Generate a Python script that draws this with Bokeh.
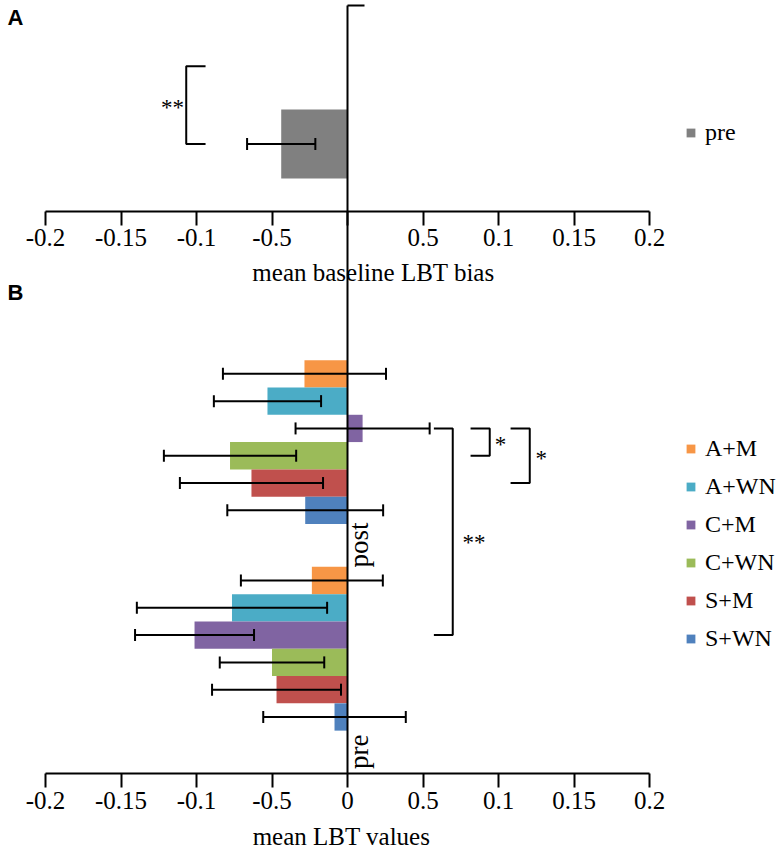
import math
from bokeh.plotting import figure
from bokeh.models import (Range1d, FixedTicker, ColumnDataSource, Whisker, TeeHead,
                          Legend, LegendItem, Label, LinearAxis)
from bokeh.core.properties import value
from bokeh.embed import file_html
from bokeh.resources import INLINE

# ---------------- data ----------------
SERIES = ["A+M", "A+WN", "C+M", "C+WN", "S+M", "S+WN"]
GROUPS = ["pre", "post"]
PRE_MEAN = [-0.0236, -0.0765, -0.1013, -0.0500, -0.0470, -0.0086]
PRE_ERR = [0.0470, 0.0630, 0.0394, 0.0346, 0.0427, 0.0472]
POST_MEAN = [-0.0285, -0.0530, 0.0100, -0.0778, -0.0636, -0.0280]
POST_ERR = [0.0540, 0.0355, 0.0444, 0.0438, 0.0474, 0.0516]
BASE_LABEL = "pre"
BASE_MEAN = [-0.0439]
BASE_ERR = [0.0226]
TICKS = [-0.2, -0.15, -0.1, -0.05, 0, 0.05, 0.1, 0.15, 0.2]
TICK_LABELS_A = ["-0.2", "-0.15", "-0.1", "-0.5", "", "0.5", "0.1", "0.15", "0.2"]
TICK_LABELS_B = ["-0.2", "-0.15", "-0.1", "-0.5", "0", "0.5", "0.1", "0.15", "0.2"]
TITLE_A = "mean baseline LBT bias"
TITLE_B = "mean LBT values"

# ---------------- styles ----------------
COLORS = ["#F79646", "#4BACC6", "#8064A2", "#9BBB59", "#C0504D", "#4F81BD"]
BASE_COLOR = "#808080"
SERIF = "Liberation Serif"

# ---------------- layout ----------------
W, H = 781, 850
X0_PX = 347.0        # px of x = 0
X_SCALE = 1510.0     # px per x unit
Y0_PX = 773.0        # px (from top) of the lower axis
Y_SCALE = 27.3       # px per bar slot
GAP = 1.57           # slots between groups
A_AXIS_Y = 20.59
A_BAR_Y = 23.06
A_BAR_H = 2.53
A_BRACKET_TOP = A_BAR_Y + 2.85
TEXT_SHIFT = 8.0     # px correction of rendered text baselines

x_range = Range1d(-X0_PX / X_SCALE, (W - X0_PX) / X_SCALE)
y_range = Range1d(-(H - Y0_PX) / Y_SCALE, Y0_PX / Y_SCALE)


def y_of_px(px):
    return (Y0_PX - px) / Y_SCALE


def x_of_px(px):
    return (px - X0_PX) / X_SCALE


n = len(SERIES)


def slot_y(g, i):
    return g * (n + GAP) + GAP + (n - 1 - i) + 0.5


p = figure(width=W, height=H, x_range=x_range, y_range=y_range,
           output_backend="svg", toolbar_location=None, min_border=0)
p.outline_line_color = None
p.xgrid.grid_line_color = None
p.ygrid.grid_line_color = None
p.yaxis.visible = False
p.background_fill_color = "white"


def style_axis(ax, labels):
    ax.ticker = FixedTicker(ticks=TICKS)
    ax.major_label_overrides = {t: l for t, l in zip(TICKS, labels)}
    ax.bounds = (-0.2, 0.2)
    ax.axis_line_width = 2
    ax.axis_line_color = "black"
    ax.major_tick_line_width = 2
    ax.major_tick_line_color = "black"
    ax.major_tick_out = 14
    ax.major_tick_in = 0
    ax.minor_tick_out = 0
    ax.minor_tick_in = 0
    ax.major_label_text_font = SERIF
    ax.major_label_text_font_size = "25px"
    ax.major_label_text_color = "black"
    ax.major_label_standoff = 4


# lower axis (panel B)
axB = p.xaxis[0]
axB.fixed_location = 0
style_axis(axB, TICK_LABELS_B)

# upper axis (panel A)
axA = LinearAxis(fixed_location=A_AXIS_Y)
style_axis(axA, TICK_LABELS_A)
p.add_layout(axA, "below")

# ---------------- panel A bar ----------------
srcA = ColumnDataSource(dict(y=[A_BAR_Y], m=BASE_MEAN,
                             lo=[BASE_MEAN[0] - BASE_ERR[0]],
                             hi=[BASE_MEAN[0] + BASE_ERR[0]]))
rA = p.hbar(y="y", left=0, right="m", height=A_BAR_H, source=srcA,
            fill_color=BASE_COLOR, line_color=None)

# ---------------- panel B bars ----------------
renderers = []
wy, wlo, whi = [], [], []
for i, s in enumerate(SERIES):
    ys = [slot_y(0, i), slot_y(1, i)]
    ms = [PRE_MEAN[i], POST_MEAN[i]]
    es = [PRE_ERR[i], POST_ERR[i]]
    src = ColumnDataSource(dict(y=ys, m=ms))
    r = p.hbar(y="y", left=0, right="m", height=1.0, source=src,
               fill_color=COLORS[i], line_color=None)
    renderers.append(r)
    for yy, mm, ee in zip(ys, ms, es):
        wy.append(yy)
        wlo.append(mm - ee)
        whi.append(mm + ee)

srcW = ColumnDataSource(dict(y=wy + [A_BAR_Y], lo=wlo + srcA.data["lo"],
                             hi=whi + srcA.data["hi"]))


def head():
    return TeeHead(size=12, line_width=2, line_color="black")


wh = Whisker(base="y", lower="lo", upper="hi", dimension="width", source=srcW,
             line_width=2, line_color="black", upper_head=head(), lower_head=head(),
             level="overlay")
p.add_layout(wh)

# ---------------- vertical zero line + top tick ----------------
top_y = y_of_px(5)
p.segment(x0=[0], y0=[0], x1=[0], y1=[top_y], line_width=2, line_color="black")
p.segment(x0=[0], y0=[top_y], x1=[17 / X_SCALE], y1=[top_y],
          line_width=2, line_color="black")

# ---------------- significance brackets ----------------
c_post = slot_y(1, SERIES.index("C+M"))
c_pre = slot_y(0, SERIES.index("C+M"))
cwn_post = slot_y(1, SERIES.index("C+WN"))
sm_post = slot_y(1, SERIES.index("S+M"))

brackets = [
    # (x_arm, x_spine, y_top, y_bottom)
    (-0.094, -0.1068, A_BRACKET_TOP, A_BAR_Y),
    (0.0572, 0.0697, c_post, c_pre),
    (0.0815, 0.0942, c_post, cwn_post),
    (0.1080, 0.1207, c_post, sm_post),
]
xs = [[a, b, b, a] for a, b, t, bt in brackets]
ys = [[t, t, bt, bt] for a, b, t, bt in brackets]
p.multi_line(xs=xs, ys=ys, line_width=2, line_color="black")

star_x = [-0.1159, 0.0838, 0.1013, 0.1283]
star_y = [(A_BRACKET_TOP + A_BAR_Y) / 2, (c_post + c_pre) / 2 - 0.27,
          (c_post + cwn_post) / 2, (c_post + sm_post) / 2]
star_t = ["**", "**", "*", "*"]
dy_text = TEXT_SHIFT / Y_SCALE
p.text(x=star_x, y=[v - 0.40 + dy_text for v in star_y], text=star_t,
       text_font=value(SERIF), text_font_size=value("23px"),
       text_align="center", text_baseline="alphabetic", text_color="black")

# ---------------- category labels pre / post ----------------
cat_y = [g * (n + GAP) + 0.8 for g in range(len(GROUPS))]
p.text(x=[11 / X_SCALE] * len(GROUPS), y=cat_y, text=GROUPS, angle=math.pi / 2,
       text_font=value(SERIF), text_font_size=value("27px"),
       text_align="center", text_baseline="alphabetic", text_color="black")

# ---------------- axis titles ----------------
p.text(x=[x_of_px(373)], y=[y_of_px(280 - TEXT_SHIFT)], text=[TITLE_A],
       text_font=value(SERIF), text_font_size=value("25px"),
       text_align="center", text_baseline="alphabetic", text_color="black")
p.text(x=[x_of_px(341)], y=[y_of_px(844 - TEXT_SHIFT)], text=[TITLE_B],
       text_font=value(SERIF), text_font_size=value("25px"),
       text_align="center", text_baseline="alphabetic", text_color="black")

# ---------------- panel letters ----------------
for letter, base_px in (("A", 25), ("B", 300)):
    p.add_layout(Label(x=x_of_px(7), y=y_of_px(base_px - TEXT_SHIFT), text=letter,
                       text_font="Liberation Sans", text_font_style="bold",
                       text_font_size="22px", text_baseline="alphabetic",
                       text_color="black"))

# ---------------- legends ----------------
def make_legend(items, loc):
    return Legend(items=items, location=loc, padding=0, margin=0, spacing=11,
                  label_height=27, glyph_width=11, glyph_height=11, label_standoff=9,
                  label_text_font=SERIF, label_text_font_size="24px",
                  label_text_color="black", border_line_alpha=0,
                  background_fill_alpha=0)


legA = make_legend([LegendItem(label=BASE_LABEL, renderers=[rA])], (685, 704))
legB = make_legend([LegendItem(label=s, renderers=[r]) for s, r in zip(SERIES, renderers)],
                   (685, 198))
p.add_layout(legA)
p.add_layout(legB)

open("out.html", "w").write(file_html(p, INLINE))
